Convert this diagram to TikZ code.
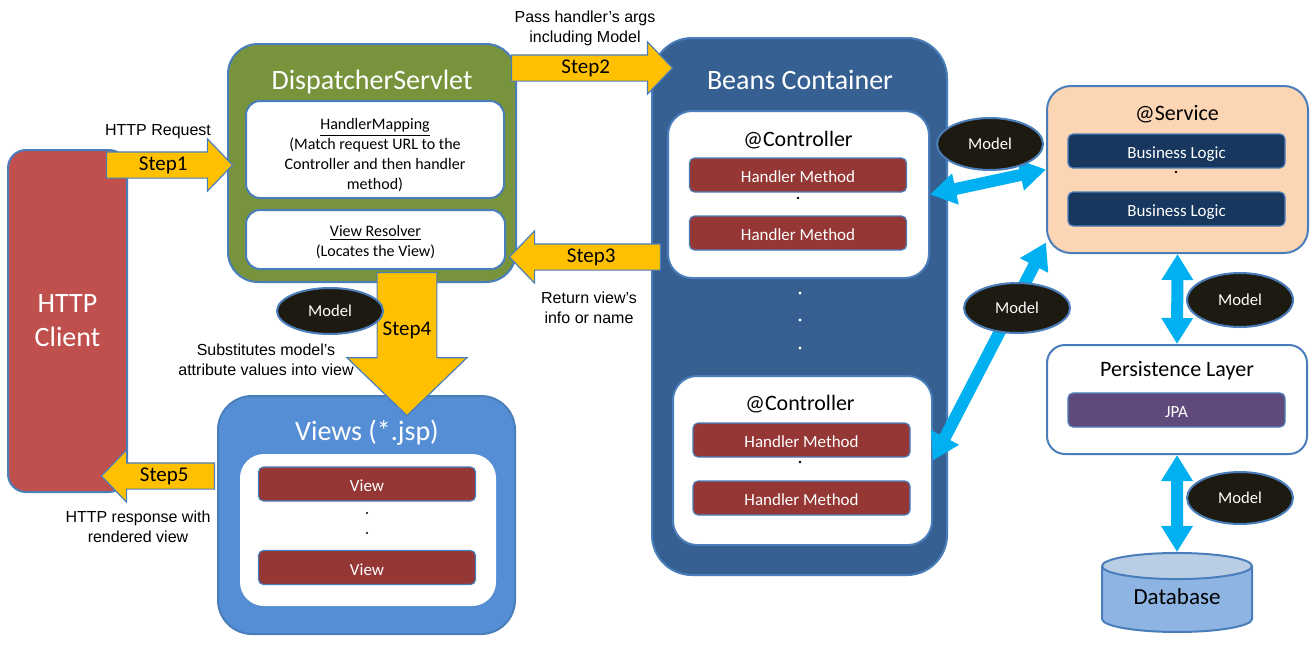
\documentclass[tikz,border=0pt]{standalone}
\usepackage{fontspec}
\setmainfont{Carlito}
\newfontfamily\arialfont{Liberation Sans}
\usetikzlibrary{shapes.geometric,shapes.arrows,arrows.meta}

\definecolor{edgeblue}{HTML}{4A7EBB}
\definecolor{clientred}{HTML}{C0504D}
\definecolor{servletgreen}{HTML}{77933C}
\definecolor{beansblue}{HTML}{376092}
\definecolor{viewsblue}{HTML}{558ED5}
\definecolor{servicepeach}{HTML}{FCD5B5}
\definecolor{logicblue}{HTML}{17375E}
\definecolor{methodred}{HTML}{953735}
\definecolor{jpapurple}{HTML}{604A7B}
\definecolor{dbblue}{HTML}{8EB4E3}
\definecolor{dbtop}{HTML}{B9CDE5}
\definecolor{stepyellow}{HTML}{FFC000}
\definecolor{flowcyan}{HTML}{00B0F0}
\definecolor{modelblack}{HTML}{1D1B11}

\begin{document}
\begin{tikzpicture}[x=0.5pt,y=-0.5pt]
    \tikzstyle{box}=[draw=edgeblue, line width=1pt, inner sep=0pt]
    \tikzstyle{panel}=[box, fill=white]
    \tikzstyle{method}=[draw=edgeblue, line width=0.6pt, rounded corners=2.5pt, minimum width=108.5pt, minimum height=17pt, inner sep=0pt, text height=7.5pt, text depth=0pt, text=white, font=\fontsize{8.5}{10}\selectfont]
    \tikzstyle{title}=[text=white, font=\fontsize{14}{17}\selectfont]
    \tikzstyle{heading}=[font=\fontsize{11}{13}\selectfont]
    \tikzstyle{desc}=[align=center, font=\fontsize{8}{10}\selectfont]
    \tikzstyle{model}=[ellipse, draw=edgeblue, line width=1pt, fill=modelblack, text=white, minimum width=53pt, minimum height=25pt, inner sep=0pt, font=\fontsize{8.3}{10}\selectfont]
    \tikzstyle{stepbox}=[single arrow, draw=edgeblue, line width=0.6pt, fill=stepyellow, font=\fontsize{10.5}{12}\selectfont, text height=7.5pt, text depth=2pt, inner xsep=2pt, inner ysep=1.5pt, single arrow head extend=6.5pt, single arrow tip angle=92]
    \tikzstyle{biarrow}=[draw=flowcyan, line width=6pt, {Triangle[width=15pt,length=13pt]}-{Triangle[width=15pt,length=13pt]}]
    \tikzstyle{note}=[font=\arialfont\fontsize{8}{10}\selectfont, align=center]

    \fill[white] (0,0) rectangle (1315,644);
    \useasboundingbox (0,0) rectangle (1315,644);

    \node[box, fill=clientred, rounded corners=9pt, minimum width=59.5pt, minimum height=171pt, text=white, align=center, font=\fontsize{14}{17}\selectfont] (client) at (67.5,321) {HTTP\\Client};

    \node[box, fill=servletgreen, rounded corners=15pt, minimum width=144pt, minimum height=119pt] (servlet) at (372,163) {};
    \node[title] (servletT) at (372,82) {DispatcherServlet};
    \node[panel, rounded corners=7pt, minimum width=129pt, minimum height=48.5pt] (mapping) at (375,149.5) {};
    \node[desc] (mappingT) at (375,155) {\underline{HandlerMapping}\\(Match request URL to the\\Controller and then handler\\method)};
    \node[panel, rounded corners=7pt, minimum width=129.5pt, minimum height=29.5pt] (resolver) at (375.5,239.5) {};
    \node[desc] (resolverT) at (375.5,242) {\underline{View Resolver}\\(Locates the View)};

    \node[box, fill=beansblue, rounded corners=20pt, minimum width=147.5pt, minimum height=268.5pt] (beans) at (799.5,306.5) {};
    \node[title] (beansT) at (800,80) {Beans Container};
    \node[panel, rounded corners=12pt, minimum width=130.5pt, minimum height=83.5pt] (ctrlA) at (798.5,194.5) {};
    \node[heading] (ctrlAT) at (798,140) {@Controller};
    \node[method, fill=methodred] (hmA1) at (798,175) {Handler Method};
    \node[method, fill=methodred] (hmA2) at (798,233) {Handler Method};
    \fill (798,198) circle (0.7pt);
    \foreach \y in {293,320,348} \fill[white] (800,\y) circle (0.8pt);
    \node[panel, rounded corners=12pt, minimum width=129.5pt, minimum height=84.5pt] (ctrlB) at (802.5,460.5) {};
    \node[heading] (ctrlBT) at (800,404) {@Controller};
    \node[method, fill=methodred] (hmB1) at (801.5,440) {Handler Method};
    \node[method, fill=methodred] (hmB2) at (801.5,498) {Handler Method};
    \fill (800,462) circle (0.7pt);

    \node[box, fill=viewsblue, rounded corners=17pt, minimum width=148.5pt, minimum height=119pt] (views) at (366.5,515) {};
    \node[title] (viewsT) at (367,433) {Views (*.jsp)};
    \node[panel, draw=none, rounded corners=12pt, minimum width=128pt, minimum height=76pt] (viewsIn) at (368,530) {};
    \node[method, fill=methodred] (viewA) at (367,484) {View};
    \node[method, fill=methodred] (viewB) at (367,567.5) {View};
    \foreach \y in {513,533} \fill (367,\y) circle (0.6pt);

    \node[box, fill=servicepeach, rounded corners=12pt, minimum width=130.5pt, minimum height=83.5pt] (service) at (1177.5,169.5) {};
    \node[heading] (serviceT) at (1177,114) {@Service};
    \node[method, fill=logicblue] (logicA) at (1176.5,151) {Business Logic};
    \node[method, fill=logicblue] (logicB) at (1176.5,209) {Business Logic};
    \fill (1176,172) circle (0.7pt);

    \node[panel, rounded corners=9pt, minimum width=130pt, minimum height=54.5pt] (persist) at (1177,399.5) {};
    \node[heading] (persistT) at (1177,371) {Persistence Layer};
    \node[method, fill=jpapurple] (jpa) at (1176.5,410) {JPA};

    \node[cylinder, shape border rotate=90, aspect=0.3, draw=edgeblue, line width=1pt, cylinder uses custom fill, cylinder body fill=dbblue, cylinder end fill=dbtop, minimum width=75pt, minimum height=39.5pt, inner sep=0pt, text height=5pt, text depth=0pt, font=\fontsize{11.5}{14}\selectfont] (db) at (1177,599.5) {Database};

    \draw[biarrow] (ctrlA.east) -- (service.west);
    \draw[biarrow] (ctrlB.east) -- (service.209);
    \draw[biarrow] (service.south) -- (persist.north);
    \draw[biarrow] (persist.south) -- (db.north);

    \node[stepbox, minimum height=63pt, anchor=tail] (step1) at (106,165) {Step1};
    \node[stepbox, minimum height=80.5pt, anchor=tail] (step2) at (511,68) {Step2};
    \node[stepbox, shape border rotate=180, minimum height=75.5pt, anchor=tail] (step3) at (661,257) {Step3};
    \node[stepbox, shape border rotate=270, minimum height=71.5pt, inner xsep=2.5pt, single arrow head extend=15pt, anchor=tail] (step4) at (407,272) {Step4};
    \node[stepbox, shape border rotate=180, minimum height=56.5pt, anchor=tail] (step5) at (215,476) {Step5};

    \node[model, minimum height=23pt] (modelV) at (330,311) {Model};
    \node[model, minimum height=26pt] (modelC) at (990,144) {Model};
    \node[model] (modelS) at (1017,308) {Model};
    \node[model, minimum height=27pt] (modelP) at (1240,300) {Model};
    \node[model, minimum height=26pt] (modelD) at (1240,498) {Model};

    \node[note] (reqN) at (158,132) {HTTP Request};
    \node[note] (argsN) at (585,28) {Pass handler’s args\\including Model};
    \node[note] (retN) at (589,308) {Return view’s\\info or name};
    \node[note] (subN) at (266,360) {Substitutes model’s\\attribute values into view};
    \node[note] (respN) at (138,527) {HTTP response with\\rendered view};
\end{tikzpicture}
\end{document}
